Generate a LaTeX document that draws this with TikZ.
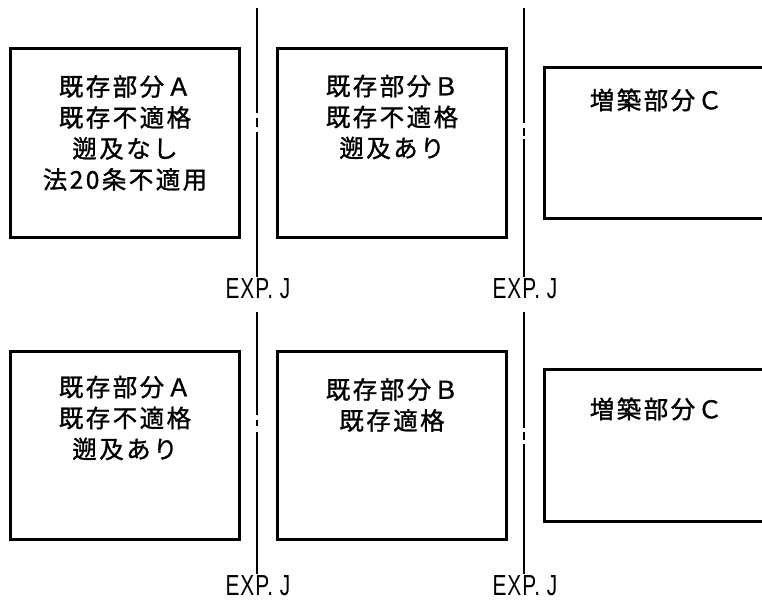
\documentclass[tikz,border=0pt]{standalone}
\usepackage{fontspec}
\newfontfamily\jpfont[LetterSpace=10,FakeBold=1.2]{Noto Sans CJK JP}
\newfontfamily\expfont[FakeStretch=0.72,LetterSpace=3]{Liberation Sans}
\begin{document}
\begin{tikzpicture}[x=1pt,y=-1pt,
  partbox/.style={draw=black,line width=3pt,inner sep=0pt,anchor=north west},
  parttext/.style={font=\jpfont\fontsize{24.5}{31}\selectfont,align=center,inner sep=0pt},
  jointline/.style={draw=black,line width=2pt},
  explabel/.style={font=\expfont\fontsize{29}{29}\selectfont,inner sep=0pt,text height=21pt,text depth=0pt}]
\useasboundingbox (0,0) rectangle (762,601);
% ---------- top row ----------
\node[partbox,minimum width=229pt,minimum height=189pt] (tA) at (9,47) {};
\node[partbox,minimum width=229pt,minimum height=189pt] (tB) at (276,47) {};
\node[partbox,minimum width=240pt,minimum height=151pt] (tC) at (543,66) {};
\node[parttext] (tAt) at (125,133) {既存部分Ａ\\既存不適格\\遡及なし\\法20条不適用};
\node[parttext] (tBt) at (392,117) {既存部分Ｂ\\既存不適格\\遡及あり};
\node[parttext] (tCt) at (656,100) {増築部分Ｃ};
\node[explabel] (tJ1) at (258,288) {EXP. J};
\node[explabel] (tJ2) at (525,288) {EXP. J};
\coordinate (tJ1top) at (257,8);
\coordinate (tJ2top) at (524,8);
\draw[jointline,dash pattern=on 105pt off 5pt on 9pt off 5pt on 400pt] (tJ1top) -- (tJ1top |- tJ1.north);
\draw[jointline,dash pattern=on 115pt off 5pt on 8pt off 3pt on 400pt] (tJ2top) -- (tJ2top |- tJ2.north);
% ---------- bottom row ----------
\node[partbox,minimum width=229pt,minimum height=188pt] (bA) at (9,350) {};
\node[partbox,minimum width=229pt,minimum height=188pt] (bB) at (276,350) {};
\node[partbox,minimum width=240pt,minimum height=152pt] (bC) at (543,368) {};
\node[parttext] (bAt) at (125,418) {既存部分Ａ\\既存不適格\\遡及あり};
\node[parttext] (bBt) at (392,405) {既存部分Ｂ\\既存適格};
\node[parttext] (bCt) at (656,409) {増築部分Ｃ};
\node[explabel] (bJ1) at (258,585) {EXP. J};
\node[explabel] (bJ2) at (525,585) {EXP. J};
\coordinate (bJ1top) at (257,312);
\coordinate (bJ2top) at (524,312);
\draw[jointline,dash pattern=on 103pt off 5pt on 6pt off 6pt on 400pt] (bJ1top) -- (bJ1top |- bJ1.north);
\draw[jointline,dash pattern=on 116pt off 4pt on 8pt off 4pt on 400pt] (bJ2top) -- (bJ2top |- bJ2.north);
\end{tikzpicture}
\end{document}
